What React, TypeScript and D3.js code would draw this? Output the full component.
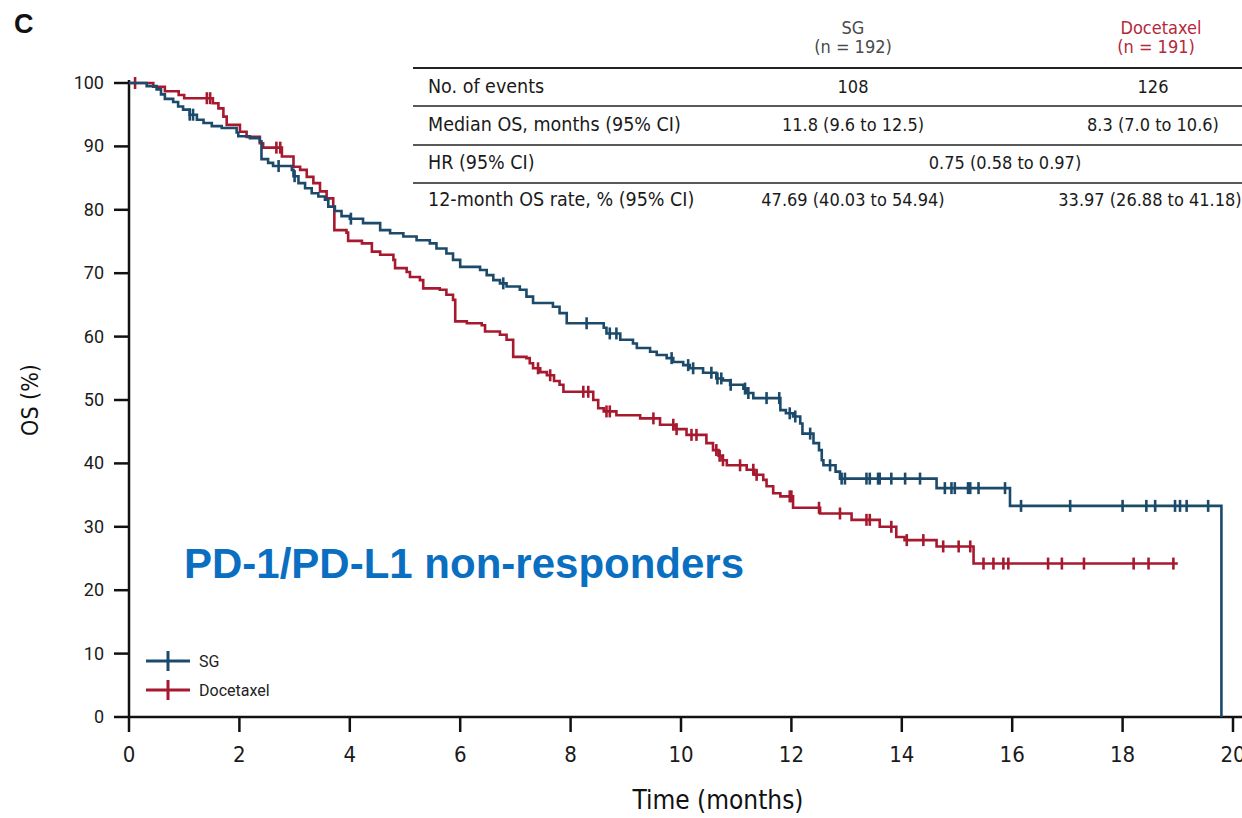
import { useEffect, useRef } from 'react';
import * as d3 from 'd3';

// Kaplan-Meier steps: [month, OS % after the drop]
const SG_STEPS: [number, number][] = [
  [0.32, 99.5], [0.5, 99.0], [0.58, 98.2], [0.65, 97.5], [0.8, 97.0], [0.89, 96.3],
  [0.98, 95.8], [1.1, 95.0], [1.23, 94.2], [1.35, 93.7], [1.5, 93.2], [1.68, 92.9],
  [1.95, 92.2], [1.98, 91.6], [2.19, 91.3], [2.37, 90.8], [2.4, 88.0], [2.52, 87.4],
  [2.61, 86.9], [2.95, 86.3], [2.98, 85.3], [3.07, 84.2], [3.19, 83.4], [3.31, 82.6],
  [3.43, 82.1], [3.55, 81.6], [3.61, 80.5], [3.73, 79.8], [3.85, 79.0], [4.0, 78.6],
  [4.24, 77.9], [4.55, 76.8], [4.73, 76.3], [4.97, 75.8], [5.21, 75.2], [5.45, 74.7],
  [5.57, 73.9], [5.75, 73.1], [5.87, 72.1], [6.0, 71.0], [6.36, 70.5], [6.48, 69.7],
  [6.6, 68.9], [6.72, 68.4], [6.84, 67.9], [7.08, 67.4], [7.2, 66.3], [7.32, 65.3],
  [7.68, 64.7], [7.8, 63.7], [7.93, 62.1], [8.6, 61.4], [8.65, 60.5], [8.9, 59.5],
  [9.13, 58.9], [9.2, 58.2], [9.44, 57.6], [9.56, 57.1], [9.74, 56.6], [9.86, 56.0],
  [10.04, 55.5], [10.16, 55.0], [10.4, 54.3], [10.64, 53.4], [10.76, 53.1], [10.89, 52.4],
  [11.13, 51.8], [11.19, 51.1], [11.31, 50.3], [11.8, 48.4], [11.9, 47.9], [12.03, 47.4],
  [12.16, 46.3], [12.2, 44.7], [12.4, 43.2], [12.5, 42.1], [12.55, 40.5], [12.58, 39.7],
  [12.8, 38.7], [12.88, 37.6], [14.63, 36.1], [15.96, 33.3], [19.79, 0],
];
const SG_CENSOR = [
  1.1, 1.16, 2.71, 3.0, 4.02, 6.78, 8.29, 8.71, 8.83, 9.83, 10.13, 10.22, 10.55, 10.66,
  10.73, 10.9, 11.16, 11.22, 11.55, 11.78, 11.97, 12.07, 12.34, 12.7, 12.91, 12.97, 13.36,
  13.42, 13.57, 13.6, 13.81, 14.06, 14.33, 14.78, 14.9, 14.96, 15.2, 15.24, 15.39, 15.87,
  16.16, 17.05, 18.0, 18.43, 18.59, 18.95, 19.04, 19.16, 19.55,
];
const SG_END = 19.79;

const DOCE_STEPS: [number, number][] = [
  [0.44, 99.4], [0.65, 98.7], [0.9, 98.1], [1.0, 97.6], [1.52, 96.8], [1.62, 96.0],
  [1.71, 94.7], [1.77, 93.4], [2.01, 92.3], [2.13, 91.5], [2.37, 90.5], [2.43, 89.8],
  [2.77, 88.4], [2.98, 86.8], [3.1, 86.3], [3.22, 85.2], [3.34, 84.2], [3.46, 82.9],
  [3.58, 81.8], [3.7, 80.5], [3.72, 76.8], [3.94, 76.4], [3.97, 75.1], [4.22, 74.7],
  [4.4, 73.4], [4.55, 72.9], [4.79, 72.1], [4.82, 70.8], [5.03, 70.2], [5.09, 69.4],
  [5.27, 68.9], [5.33, 67.6], [5.63, 67.4], [5.75, 66.6], [5.87, 65.8], [5.91, 62.4],
  [6.12, 62.1], [6.39, 61.8], [6.45, 60.8], [6.72, 60.3], [6.84, 59.5], [6.96, 56.8],
  [7.2, 56.6], [7.26, 55.8], [7.32, 55.0], [7.45, 54.4], [7.57, 53.9], [7.7, 53.0],
  [7.8, 52.4], [7.87, 51.3], [8.41, 50.0], [8.5, 48.7], [8.6, 48.2], [8.83, 47.6],
  [9.26, 47.1], [9.62, 46.1], [9.9, 45.4], [10.1, 44.5], [10.46, 43.2], [10.58, 42.1],
  [10.68, 41.2], [10.75, 40.5], [10.83, 39.7], [11.19, 39.0], [11.33, 38.2], [11.49, 37.4],
  [11.55, 36.4], [11.67, 35.3], [11.8, 34.8], [12.03, 33.0], [12.52, 32.1], [13.09, 31.1],
  [13.6, 30.0], [13.9, 28.4], [14.05, 27.9], [14.63, 26.9], [15.3, 24.2],
];
const DOCE_CENSOR = [
  0.11, 1.41, 1.47, 2.67, 2.74, 7.41, 7.63, 8.23, 8.32, 8.65, 8.71, 9.5, 9.86, 9.92,
  10.19, 10.28, 10.64, 10.7, 10.76, 11.07, 11.31, 11.37, 11.97, 12.0, 12.5, 12.88, 13.36,
  13.42, 13.81, 14.09, 14.39, 14.75, 15.03, 15.24, 15.48, 15.66, 15.84, 15.93, 16.65,
  16.9, 17.3, 18.2, 18.47, 18.92,
];
const DOCE_END = 19.0;

const X_TICKS = [0, 2, 4, 6, 8, 10, 12, 14, 16, 18, 20];
const Y_TICKS = [0, 10, 20, 30, 40, 50, 60, 70, 80, 90, 100];

const TABLE_LABELS = ['No. of events', 'Median OS, months (95% CI)', 'HR (95% CI)', '12-month OS rate, % (95% CI)'];
const TABLE_SG = ['108', '11.8 (9.6 to 12.5)', '', '47.69 (40.03 to 54.94)'];
const TABLE_DOCE = ['126', '8.3 (7.0 to 10.6)', '', '33.97 (26.88 to 41.18)'];
const TABLE_HR = '0.75 (0.58 to 0.97)';

const SG_COLOR = '#1B4A6B';
const DOCE_COLOR = '#A6192E';
const NARROW = '"Liberation Sans Narrow", "DejaVu Sans Condensed", sans-serif';
const SANS = 'Roboto, "Liberation Sans", sans-serif';

export default function App() {
  const svgRef = useRef<SVGSVGElement | null>(null);

  useEffect(() => {
    const el = svgRef.current;
    if (!el) return;
    d3.select(el).selectAll('*').remove();

    const W = 1242;
    const H = 818;
    const svg = d3.select(el).attr('width', W).attr('height', H);

    const x = d3.scaleLinear().domain([0, 20]).range([129, 1233]);
    const y = d3.scaleLinear().domain([0, 100]).range([717, 83]);

    // panel letter
    svg.append('text').attr('x', 14).attr('y', 33)
      .style('font-family', 'Arial, "Liberation Sans", sans-serif')
      .style('font-weight', 700).style('font-size', '27px').style('fill', '#111')
      .text('C');

    // axes
    svg.append('line').attr('x1', x(0)).attr('x2', W).attr('y1', y(0)).attr('y2', y(0))
      .style('stroke', '#111').style('stroke-width', 2.5);
    svg.append('line').attr('x1', x(0)).attr('x2', x(0)).attr('y1', y(0) + 1).attr('y2', y(100) - 3)
      .style('stroke', '#111').style('stroke-width', 2.5);

    const xt = svg.append('g');
    X_TICKS.forEach(t => {
      xt.append('line').attr('x1', x(t)).attr('x2', x(t)).attr('y1', y(0)).attr('y2', y(0) + 15)
        .style('stroke', '#111').style('stroke-width', 2.5);
      xt.append('text').attr('x', x(t)).attr('y', y(0) + 45)
        .style('font-family', NARROW).style('font-size', '22px').style('fill', '#1a1a1a')
        .style('text-anchor', 'middle').text(t);
    });
    const yt = svg.append('g');
    Y_TICKS.forEach(t => {
      yt.append('line').attr('x1', x(0) - 15).attr('x2', x(0)).attr('y1', y(t)).attr('y2', y(t))
        .style('stroke', '#111').style('stroke-width', 2.5);
      yt.append('text').attr('x', x(0) - 25).attr('y', y(t) + 6)
        .style('font-family', SANS).style('font-size', '18px').style('fill', '#1a1a1a')
        .style('text-anchor', 'end').text(t);
    });

    svg.append('text').attr('transform', `translate(38,${(y(0) + y(100)) / 2}) rotate(-90)`)
      .style('font-family', NARROW).style('font-size', '23px').style('fill', '#111')
      .style('text-anchor', 'middle').text('OS (%)');
    svg.append('text').attr('x', 718).attr('y', 809)
      .style('font-family', NARROW).style('font-size', '26px').style('fill', '#111')
      .style('text-anchor', 'middle').text('Time (months)');

    // curves
    const line = d3.line<[number, number]>()
      .x(d => x(d[0])).y(d => y(d[1]))
      .curve(d3.curveStepAfter);

    const levelAt = (steps: [number, number][], t: number) => {
      let s = 100;
      for (const [st, sv] of steps) { if (st <= t) s = sv; else break; }
      return s;
    };

    const drawSeries = (steps: [number, number][], censor: number[], end: number, color: string) => {
      const pts: [number, number][] = [[0, 100], ...steps];
      const last = steps[steps.length - 1];
      if (last[0] < end) pts.push([end, last[1]]);
      svg.append('path').datum(pts)
        .attr('fill', 'none').attr('stroke', color).attr('stroke-width', 2.6)
        .attr('stroke-linejoin', 'miter').attr('d', line);
      censor.forEach(t => {
        const cy = y(levelAt(steps, t));
        svg.append('line').attr('x1', x(t)).attr('x2', x(t)).attr('y1', cy - 6).attr('y2', cy + 6)
          .style('stroke', color).style('stroke-width', 2.6);
      });
    };
    drawSeries(DOCE_STEPS, DOCE_CENSOR, DOCE_END, DOCE_COLOR);
    drawSeries(SG_STEPS, SG_CENSOR, SG_END, SG_COLOR);

    // subgroup label
    svg.append('text').attr('x', 184).attr('y', 578)
      .style('font-family', 'Arial, "Liberation Sans", sans-serif')
      .style('font-weight', 700).style('font-size', '42px').style('fill', '#0A6FC0')
      .text('PD-1/PD-L1 non-responders');

    // legend
    const legend = [
      { name: 'SG', color: SG_COLOR, cy: 661 },
      { name: 'Docetaxel', color: DOCE_COLOR, cy: 690 },
    ];
    legend.forEach(l => {
      svg.append('line').attr('x1', 146).attr('x2', 190).attr('y1', l.cy).attr('y2', l.cy)
        .style('stroke', l.color).style('stroke-width', 3);
      svg.append('line').attr('x1', 168).attr('x2', 168).attr('y1', l.cy - 10).attr('y2', l.cy + 10)
        .style('stroke', l.color).style('stroke-width', 3);
      svg.append('text').attr('x', 199).attr('y', l.cy + 6)
        .style('font-family', SANS).style('font-size', '16px').style('fill', '#222')
        .text(l.name);
    });

    // stats table
    const colLabel = 428;
    const colSG = 853;
    const colDoce = 1153;
    const headerFont = (sel: d3.Selection<SVGTextElement, unknown, null, undefined>) =>
      sel.style('font-family', NARROW).style('font-size', '18px').style('text-anchor', 'middle');
    headerFont(svg.append('text').attr('x', colSG).attr('y', 34)).style('fill', '#4a4a4a').text('SG');
    headerFont(svg.append('text').attr('x', colSG).attr('y', 53)).style('fill', '#4a4a4a').text('(n = 192)');
    headerFont(svg.append('text').attr('x', colDoce + 8).attr('y', 34)).style('fill', '#B5283C').text('Docetaxel');
    headerFont(svg.append('text').attr('x', colDoce + 3).attr('y', 53)).style('fill', '#B5283C').text('(n = 191)');

    const rowLines = [68, 106, 145, 183];
    rowLines.forEach((ly, i) => {
      svg.append('line').attr('x1', 413).attr('x2', W).attr('y1', ly).attr('y2', ly)
        .style('stroke', '#222').style('stroke-width', i === 0 ? 1.8 : 1.3);
    });
    const rowBase = [93, 131, 169, 206];
    TABLE_LABELS.forEach((lab, i) => {
      const cell = (tx: number, txt: string, anchor: string, size: number) =>
        svg.append('text').attr('x', tx).attr('y', rowBase[i])
          .style('font-family', NARROW).style('font-size', `${size}px`).style('fill', '#1a1a1a')
          .style('text-anchor', anchor).text(txt);
      cell(colLabel, lab, 'start', 19.5);
      if (i === 2) {
        cell(1005, TABLE_HR, 'middle', 18);
      } else {
        cell(colSG, TABLE_SG[i], 'middle', 18);
        cell(i === 3 ? 1150 : colDoce, TABLE_DOCE[i], 'middle', 18);
      }
    });
  }, []);

  return (
    <div style={{ position: 'fixed', left: 0, top: 0, background: '#fff' }}>
      <svg ref={svgRef} style={{ display: 'block' }} />
    </div>
  );
}
